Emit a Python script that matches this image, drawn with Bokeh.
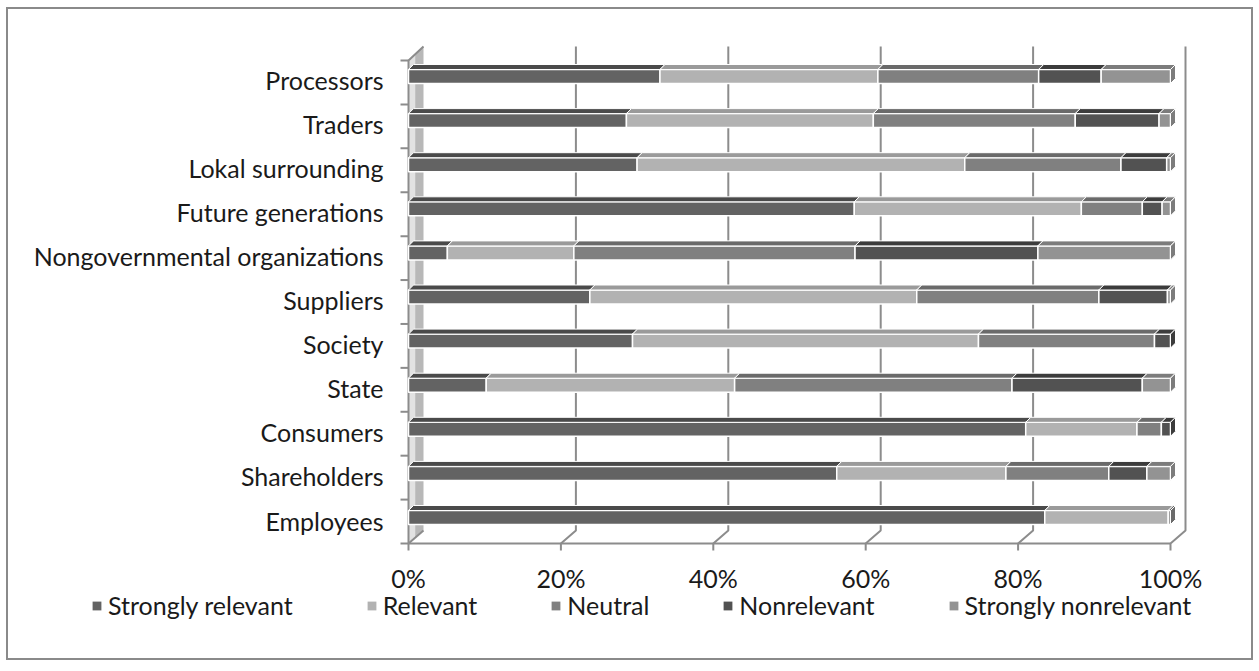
from bokeh.plotting import figure
from bokeh.models import Range1d, Legend, LegendItem, ColumnDataSource
from bokeh.core.properties import value
from bokeh.embed import file_html
from bokeh.resources import INLINE

# ---------------- data ----------------
categories = ["Employees", "Shareholders", "Consumers", "State", "Society", "Suppliers",
              "Nongovernmental organizations", "Future generations", "Lokal surrounding",
              "Traders", "Processors"]
series_names = ["Strongly relevant", "Relevant", "Neutral", "Nonrelevant", "Strongly nonrelevant"]
strongly_relevant = [83.5, 56.2, 81.0, 10.2, 29.4, 23.8, 5.1, 58.5, 30.0, 28.6, 33.0]
relevant = [16.2, 22.2, 14.6, 32.6, 45.4, 42.9, 16.6, 29.8, 43.0, 32.4, 28.6]
neutral = [0.3, 13.5, 3.2, 36.4, 23.1, 23.9, 36.9, 8.0, 20.5, 26.5, 21.1]
nonrelevant = [0.0, 5.0, 1.2, 17.1, 2.1, 9.0, 24.0, 2.6, 6.0, 11.0, 8.2]
strongly_nonrelevant = [0.0, 3.1, 0.0, 3.7, 0.0, 0.4, 17.4, 1.1, 0.5, 1.5, 9.1]
x_ticks = [0, 20, 40, 60, 80, 100]
x_tick_labels = ["0%", "20%", "40%", "60%", "80%", "100%"]

series_values = [strongly_relevant, relevant, neutral, nonrelevant, strongly_nonrelevant]
front_colors = ["#636363", "#b2b2b2", "#808080", "#525252", "#939393"]
top_colors = ["#4a4a4a", "#9a9a9a", "#6a6a6a", "#3c3c3c", "#7c7c7c"]

FONT = "Lato"
FONT_SIZE = "25px"
TEXT_COLOR = "#1a1a1a"
FRAME_COLOR = "#8c8c8c"

# ---------------- geometry (page pixels) ----------------
PAGE_X0, PX_X = 408.0, 7.62      # 0% position, px per percent
PAGE_Y0, PX_Y = 517.0, 44.1      # first category centre, px per category
CANVAS_L, CANVAS_T = 8, 9
W, H = 1247, 653


def xd(px):
    return (px - PAGE_X0) / PX_X


def yd(py):
    return (PAGE_Y0 - py) / PX_Y


p = figure(width=W, height=H, output_backend="svg", toolbar_location=None,
           x_range=Range1d(xd(CANVAS_L), xd(CANVAS_L + W)),
           y_range=Range1d(yd(CANVAS_T + H), yd(CANVAS_T)),
           min_border=0, min_border_left=0, min_border_right=0,
           min_border_top=0, min_border_bottom=0,
           x_axis_type=None, y_axis_type=None)
p.styles = {"border": "2px solid #8a8a8a", "margin-left": "6px", "margin-top": "7px"}
p.outline_line_color = None
p.xgrid.visible = False
p.ygrid.visible = False
p.background_fill_color = "white"
p.border_fill_color = "white"

# 3D frame constants
DXB = 15 / PX_X
YF, YB = yd(543), yd(530)
YTF, YTB = yd(60), yd(46)
TICK_DOWN = 7 / PX_Y
BAR_H = 14 / PX_Y
DX, DY = 5 / PX_X, 5 / PX_Y

# left wall
p.patch([0, DXB, DXB, 0], [YF, YB, YTB, YTF], fill_color="#b8b8b8", line_color=None)
p.patch([0, DXB * 0.45, DXB * 0.45, 0], [YF, YF + (YB - YF) * 0.45, YTF + (YTB - YTF) * 0.45, YTF],
        fill_color="#e2e2e2", line_color=None)

# gridlines / walls / floor / ticks
gx, gy = [], []
for v in x_ticks[1:]:
    gx.append([v + DXB, v + DXB, v, v])
    gy.append([YTB, YB, YF, YF - TICK_DOWN])
gx.append([0, 0]); gy.append([YF, YF - TICK_DOWN])
gx.append([0, 0, DXB]); gy.append([YF, YTF, YTB])
gx.append([0, 100]); gy.append([YF, YF])
gx.append([0, DXB]); gy.append([YF, YB])
step = (YTF - YF) / len(categories)
for k in range(len(categories) + 1):
    yk = YF + k * step
    gx.append([-8 / PX_X, 0]); gy.append([yk, yk])
p.multi_line(gx, gy, line_color=FRAME_COLOR, line_width=2)

# bars
n = len(categories)
lefts = [0.0] * n
last_series = [0] * n
for s, vals in enumerate(series_values):
    idx = [i for i in range(n) if vals[i] > 0]
    left = [lefts[i] for i in idx]
    right = [lefts[i] + vals[i] for i in idx]
    src = ColumnDataSource(dict(y=idx, left=left, right=right))
    p.hbar(y="y", left="left", right="right", height=BAR_H, source=src,
           fill_color=front_colors[s], line_color="white", line_width=1.5)
    txs, tys = [], []
    for i, l, rr in zip(idx, left, right):
        yt = i + BAR_H / 2
        txs.append([l, rr, rr + DX, l + DX])
        tys.append([yt, yt, yt + DY, yt + DY])
        last_series[i] = s
    p.patches(txs, tys, fill_color=top_colors[s], line_color="white", line_width=1)
    for i in range(n):
        lefts[i] += vals[i]

exs, eys, ecs = [], [], []
for i in range(n):
    tot = lefts[i]
    exs.append([tot, tot + DX, tot + DX, tot])
    eys.append([i - BAR_H / 2, i - BAR_H / 2 + DY, i + BAR_H / 2 + DY, i + BAR_H / 2])
    ecs.append(top_colors[last_series[i]])
p.patches(exs, eys, fill_color=ecs, line_color="white", line_width=1)

# category labels (y axis)
cat_src = ColumnDataSource(dict(x=[xd(383)] * n, y=[i - 3 / PX_Y for i in range(n)], t=categories))
p.text(x="x", y="y", text="t", source=cat_src, text_align="right", text_baseline="middle",
       text_font=value(FONT), text_font_size=value(FONT_SIZE), text_color=TEXT_COLOR)

# x tick labels
tick_src = ColumnDataSource(dict(x=x_ticks, y=[yd(577)] * len(x_ticks), t=x_tick_labels))
p.text(x="x", y="y", text="t", source=tick_src, text_align="center", text_baseline="middle",
       text_font=value(FONT), text_font_size=value(FONT_SIZE), text_color=TEXT_COLOR)

# legend (solid squares in series colours; proxy bars have zero size)
leg_renderers = []
for s in range(len(series_names)):
    leg_renderers.append(p.hbar(y=[0], left=[0], right=[0], height=0,
                                fill_color=front_colors[s], line_color=None))
LEG_BOTTOM = 620
legend = Legend(items=[LegendItem(label=nm, renderers=[r]) for nm, r in zip(series_names, leg_renderers)],
                orientation="horizontal", location=(91 - CANVAS_L, CANVAS_T + H - LEG_BOTTOM),
                glyph_width=11, glyph_height=11, label_standoff=6, spacing=73,
                padding=0, margin=0, border_line_color=None, background_fill_alpha=0,
                label_text_font=FONT, label_text_font_size=FONT_SIZE, label_text_color=TEXT_COLOR)
p.add_layout(legend)

open("out.html", "w").write(file_html(p, INLINE))
